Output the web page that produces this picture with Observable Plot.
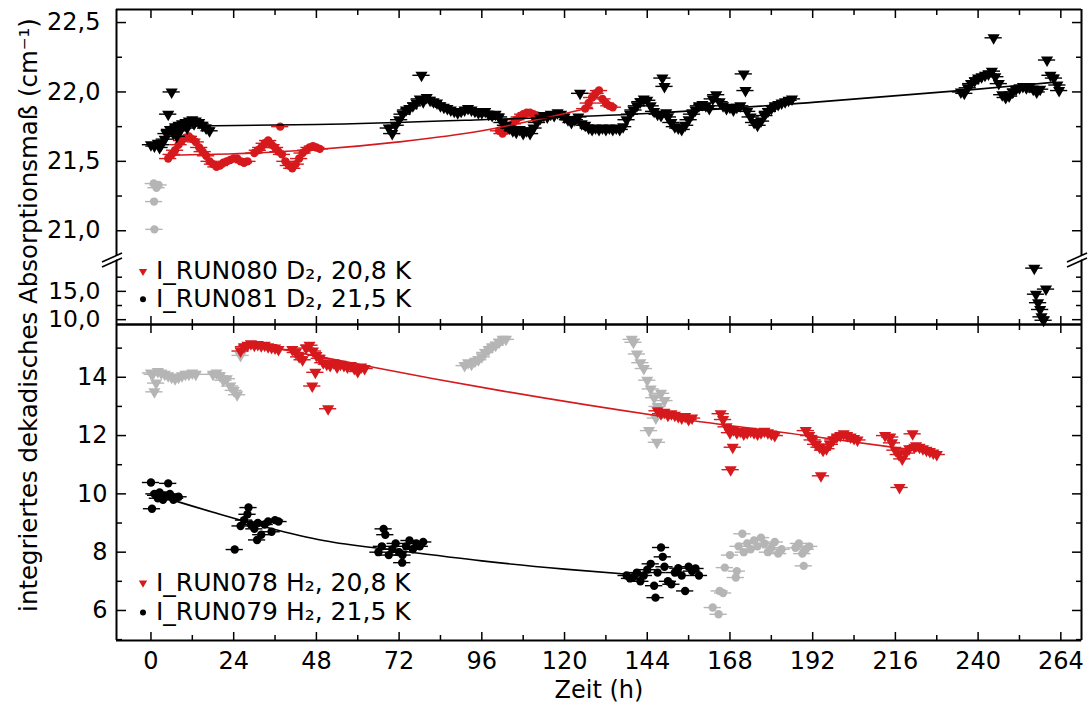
<!DOCTYPE html>
<html><head><meta charset="utf-8">
<script src="https://cdn.jsdelivr.net/npm/d3@7"></script>
<script src="https://cdn.jsdelivr.net/npm/@observablehq/plot@0.6"></script>
<style>
body{margin:0;background:#fff;}
#wrap{position:relative;width:1091px;height:707px;overflow:hidden;background:#fff;}
#wrap svg{position:absolute;left:0;overflow:visible;}
</style></head><body><div id="wrap"></div>
<script>
// ---------- axis / tick data ----------
const xDomain = [-10, 270];
const xMajor = [0, 24, 48, 72, 96, 120, 144, 168, 192, 216, 240, 264];
const xMinor = [12, 36, 60, 84, 108, 132, 156, 180, 204, 228, 252];
const yTopDomain = [20.80, 22.594];
const yTopMajor = [21.0, 21.5, 22.0, 22.5];
const yTopMinor = [21.25, 21.75, 22.25];
const yMidDomain = [9.15, 20.8];
const yMidMajor = [10, 15];
const yMidMinor = [12.5, 17.5];
const yBotDomain = [4.97, 15.81];
const yBotMajor = [6, 8, 10, 12, 14];
const yBotMinor = [5, 7, 9, 11, 13, 15];
const xErr = 2.5;
const xTitle = "Zeit (h)";
const yTitle = "integriertes dekadisches Absorptionsmaß (cm⁻¹)";
const legendTop = ["I_RUN080 D₂, 20,8 K", "I_RUN081 D₂, 21,5 K"];
const legendBot = ["I_RUN078 H₂, 20,8 K", "I_RUN079 H₂, 21,5 K"];

// ---------- upper panel (D2) ----------
const topGray = [[0.8,21.34],[1.6,21.31],[2.2,21.33],[0.9,21.21],[1.0,21.01]];
const topBlack = [
 [0,21.62],[1,21.61],[2,21.63],[2.5,21.60],[3,21.62],[4,21.66],[4.5,21.70],[5,21.84],[6,22.00],
 [5.5,21.73],[6.5,21.70],[7,21.75],[7.5,21.68],[8,21.76],[8.5,21.72],[9,21.77],[10,21.78],[10.5,21.74],
 [11,21.79],[12,21.80],[12.5,21.77],[13,21.79],[14,21.78],[15,21.76],[16,21.74],[17,21.72],
 [69,21.74],[70,21.70],[71,21.76],[72,21.80],[73,21.84],[74,21.87],[75,21.88],[76,21.90],[77,21.92],
 [78,21.95],[78.5,22.12],[79,21.93],[80,21.96],[81,21.94],[82,21.93],[83,21.92],[84,21.90],[85,21.89],
 [86,21.88],[87,21.87],[88,21.86],[89,21.85],[90,21.86],[91,21.87],[92,21.88],[93,21.87],[94,21.86],
 [95,21.85],[96,21.85],[97,21.86],[98,21.84],[99,21.83],[100,21.84],[101,21.82],[102,21.78],[103,21.76],
 [104,21.74],[105,21.72],[106,21.71],[107,21.73],[108,21.70],[109,21.72],[110,21.70],[111,21.74],
 [112,21.78],[113,21.81],[114,21.83],[115,21.82],[116,21.84],[117,21.83],[118,21.85],[119,21.84],
 [120,21.82],[121,21.80],[122,21.78],[123,21.80],[124,21.82],[124.5,21.99],[125,21.77],[126,21.76],
 [127,21.74],[128,21.73],[129,21.74],[130,21.73],[131,21.74],[132,21.73],[133,21.74],[134,21.73],
 [135,21.74],[136,21.73],[137,21.75],
 [138,21.80],[139,21.84],[140,21.87],[141,21.90],[142,21.93],[143,21.95],[144,21.94],[145,21.90],
 [146,21.86],[147,21.84],[148,21.83],[148.4,22.10],[149,22.04],[149.5,21.85],[150,21.82],[151,21.78],
 [152,21.75],[153,21.74],[154,21.73],[155,21.76],[156,21.80],[157,21.84],[158,21.87],[159,21.90],
 [160,21.91],[161,21.90],[162,21.88],[163,21.95],[164,21.98],[165,21.93],[166,21.90],[167,21.88],
 [168,21.89],[169,21.87],[170,21.89],[171,21.90],[172,22.13],[172.5,22.01],[173,21.86],[174,21.82],
 [175,21.78],[176,21.76],[177,21.79],[178,21.83],[179,21.86],[180,21.88],[181,21.90],[182,21.91],
 [183,21.92],[184,21.93],[185,21.94],[186,21.95],
 [235,22.00],[236,21.99],[237,22.03],[238,22.06],[239,22.08],[240,22.10],[241,22.11],[242,22.12],
 [243,22.13],[244,22.15],[244.5,22.39],[245,22.11],[246,22.06],[247,21.98],[248,21.96],[249,21.97],
 [250,22.00],[251,22.02],[252,22.03],[253,22.04],[254,22.03],[255,22.04],[256,22.02],[257,22.00],
 [258,22.02],[260,22.23],[261,22.12],[262,22.10],[263,22.05],[263.5,22.01]
];
const midBlack = [[256.3,19.1],[259.7,15.4],[256.8,14.5],[257.4,13.0],[258,11.8],[258.4,10.5],[259,9.9]];
const topRed = [
 [5,21.52],[6,21.55],[7,21.58],[8,21.62],[9,21.65],[10,21.67],[11,21.68],[12,21.66],[13,21.64],
 [14,21.60],[14.5,21.77],[15,21.57],[16,21.54],[17,21.50],[18,21.48],[19,21.46],[20,21.47],[21,21.49],
 [22,21.50],[23,21.51],[24,21.52],[25,21.52],[26,21.50],[27,21.49],[28,21.50],
 [30,21.56],[31,21.58],[32,21.60],[33,21.63],[34,21.65],[35,21.62],[36,21.60],[37,21.57],[37.5,21.75],
 [38,21.55],[39,21.50],[40,21.47],[41,21.45],[42,21.48],[43,21.52],[44,21.56],[45,21.58],[46,21.60],
 [47,21.61],[48,21.60],[49,21.59],
 [101,21.72],[102,21.70],[103,21.72],[104,21.75],[105,21.77],[106,21.80],[107,21.82],[108,21.84],
 [109,21.85],[110,21.85],[111,21.84],[112,21.83],[113,21.82],
 [126,21.88],[127,21.92],[128,21.96],[129,21.99],[130,22.01],[131,21.95],[132,21.92],[133,21.90],[134,21.89]
];
const topBlackFit = [[13,21.755],[48,21.765],[96,21.80],[144,21.845],[192,21.925],[240,22.02],[262,22.07]];
const topRedFit = [[6,21.545],[24,21.555],[48,21.585],[72,21.64],[96,21.72],[110,21.79],[128,21.89]];

// ---------- lower panel (H2) ----------
const botGrayTri = [
 [0,14.15],[0.5,14.1],[1,13.5],[1.5,13.8],[2,14.2],[3,14.15],[4,14.1],[5,14.05],[6,14.0],[7,13.95],
 [8,14.0],[9,14.05],[10,14.1],[11,14.1],[12,14.15],[13,14.1],
 [18,14.1],[19,14.15],[20,14.05],[21,13.9],[22,13.95],[23,13.7],[24,13.55],[25,13.4],[26,14.75],[27,15.0],
 [91,14.4],[92,14.5],[93,14.45],[94,14.55],[95,14.6],[96,14.7],[97,14.85],[98,14.95],[99,15.05],
 [100,15.1],[101,15.2],[102,15.3],[103,15.3],
 [139.5,15.3],[140,15.2],[141,14.8],[142,14.5],[143,14.3],[144,13.9],[145,13.6],[146,13.3],[147,13.0],
 [146.5,12.6],[144.5,12.17],[146.8,11.77],[148,13.45],[149,13.2]
];
const botRed = [
 [26,14.9],[27,15.05],[28,15.1],[29,15.15],[30,15.1],[31,15.12],[32,15.08],[33,15.1],[34,15.05],
 [35,15.02],[36,15.0],[37,14.95],
 [41,14.95],[42,14.85],[43,14.7],[44,14.6],[45,15.0],[46,15.1],[46.8,13.7],[47.7,14.17],[47,14.9],
 [48,14.75],[49,14.65],[50,14.5],[51,14.45],[51.4,12.92],[52,14.4],[53,14.5],[54,14.35],[55,14.45],
 [56,14.4],[57,14.35],[58,14.4],[59,14.3],[60,14.2],[61,14.35],[62,14.3],
 [147,12.85],[148,12.75],[149,12.8],[150,12.7],[151,12.75],[152,12.7],[153,12.65],[154,12.6],
 [155,12.65],[156,12.55],[157,12.6],
 [165.3,12.75],[166,12.55],[167,12.3],[168,12.1],[168.8,11.6],[168.2,10.83],[169,12.2],[170,12.1],
 [171,12.15],[172,12.05],[173,12.1],[174,12.15],[175,12.1],[176,12.05],[177,12.1],[178,12.15],
 [179,12.1],[180,12.05],[181,12.0],
 [190,12.17],[191,12.0],[192,11.85],[193,11.7],[194,11.6],[194.4,10.62],[195,11.5],[196,11.55],
 [197,11.7],[198,11.85],[199,11.95],[200,12.0],[201,12.06],[202,12.0],[203,11.95],[204,11.9],[205,11.85],
 [213,12.0],[214.5,11.95],[215,11.75],[216,11.5],[217,11.35],[217.2,10.22],[218,11.2],[219,11.4],
 [220,11.55],[221,12.06],[221.5,11.6],[222,11.65],[223,11.6],[224,11.55],[225,11.5],[226,11.45],
 [227,11.4],[228,11.35]
];
const botBlack = [
 [0,10.39],[0.3,9.49],[1,10.0],[1.5,9.95],[2,9.85],[2.5,10.05],[3,9.9],[3.5,9.8],[4,9.95],[5,10.36],
 [5.5,10.0],[6,9.9],[6.5,9.8],[7,9.85],[8,9.9],
 [24.3,8.09],[26,8.9],[27,9.1],[28,9.3],[28.3,9.53],[29,8.95],[30,8.8],[30.8,8.42],[31,9.0],[32,8.6],
 [33,8.95],[34,9.05],[35,8.7],[36,9.1],[37,9.05],
 [66,8.0],[67,8.2],[67.5,8.8],[68,8.6],[69,7.9],[70,8.1],[71,8.3],[72,8.0],[72.9,7.64],[73,7.9],
 [74,8.2],[75,8.4],[76,8.1],[77,8.3],[78,8.2],[79,8.35],
 [138,7.2],[139,7.1],[140,7.15],[141,7.3],[142,7.0],[143,7.2],[144,7.4],[145,7.6],[146,6.85],
 [146.4,6.44],[147,7.3],[148,8.16],[148.5,7.84],[149,7.5],[150,7.0],[151,6.9],[152,7.3],[153,7.45],
 [154,7.2],[155,6.67],[156,7.5],[157,7.35],[158,7.44],[159,7.2]
];
const botGrayDot = [
 [163,6.1],[164.7,5.87],[165,6.67],[166,6.6],[166.5,7.47],[168,7.9],[169.7,7.13],[170,7.35],[170.5,8.2],
 [171.6,8.63],[172,8.0],[173,8.3],[174,8.1],[175,8.4],[176,8.2],[177,8.5],[178,8.3],[179,8.0],
 [180,8.15],[181,8.35],[182,7.95],[183,8.1],[187,8.15],[188,8.3],[189,7.95],[189.4,7.53],[190,8.1],[191,8.2]
];
const botBlackFit = [[7,9.76],[20,9.3],[34,8.84],[50,8.4],[72,8.05],[96,7.7],[120,7.42],[143,7.2]];
const botRedFit = [[35,15.03],[60,14.45],[82,13.95],[101,13.55],[147,12.68],[190,12.0],[229,11.38]];

// ---------- styles ----------
const RED = "#d6191d", GRAY = "#b5b5b5", BLACK = "#000";
const FONT = "'DejaVu Sans', 'Noto Sans', sans-serif";

function series(data, color, shape) {
  const m = [Plot.ruleY(data, {y: d => d[1], x1: d => d[0] - xErr, x2: d => d[0] + xErr, stroke: color, strokeWidth: 1.4})];
  if (shape === "tri") m.push(Plot.dot(data, {x: d => d[0], y: d => d[1], symbol: "triangle", rotate: 180, r: 4.5, fill: color, stroke: null}));
  else m.push(Plot.dot(data, {x: d => d[0], y: d => d[1], r: 4.2, fill: color, stroke: null}));
  return m;
}
function fit(data, color) {
  return Plot.line(data, {x: d => d[0], y: d => d[1], stroke: color, strokeWidth: 1.6, curve: "monotone-x"});
}

function panel(o) {
  const marks = [];
  marks.push(...o.data);
  marks.push(Plot.ruleX(xDomain, {stroke: BLACK, strokeWidth: 2}));
  if (o.top) {
    marks.push(Plot.ruleY([o.yDomain[1]], {stroke: BLACK, strokeWidth: 2}));
    marks.push(Plot.axisX(xMajor, {anchor: "top", tickSize: -8, text: null, label: null, strokeWidth: 1.5}));
    marks.push(Plot.axisX(xMinor, {anchor: "top", tickSize: -5, text: null, label: null, strokeWidth: 1.5}));
  }
  if (o.bottom) {
    marks.push(Plot.ruleY([o.yDomain[0]], {stroke: BLACK, strokeWidth: 2}));
    marks.push(Plot.axisX(xMajor, {anchor: "bottom", tickSize: -8, text: null, label: null, strokeWidth: 1.5}));
    marks.push(Plot.axisX(xMinor, {anchor: "bottom", tickSize: -5, text: null, label: null, strokeWidth: 1.5}));
  }
  for (const a of ["left", "right"]) {
    marks.push(Plot.axisY(o.yMajor, {anchor: a, tickSize: -10, text: null, label: null, strokeWidth: 1.5}));
    marks.push(Plot.axisY(o.yMinor, {anchor: a, tickSize: -6, text: null, label: null, strokeWidth: 1.5}));
  }
  marks.push(Plot.axisY(o.yMajor, {anchor: "left", tickSize: 0, tickPadding: o.pad, tickFormat: o.fmt, label: null, fontSize: o.fs}));
  if (o.xLabels) {
    marks.push(Plot.axisX(xMajor, {anchor: "bottom", tickSize: 0, tickPadding: 11, fontSize: 24,
      label: xTitle, labelAnchor: "center", labelArrow: "none", labelOffset: 57}));
  }
  const svg = Plot.plot({
    width: 1091, height: o.height,
    marginLeft: 116, marginRight: 10, marginTop: o.mt, marginBottom: o.mb,
    style: {fontFamily: FONT, color: "#000", background: "transparent"},
    x: {domain: xDomain, axis: null},
    y: {domain: o.yDomain, axis: null},
    marks
  });
  svg.style.top = o.topPx + "px";
  return svg;
}

const comma1 = d => d.toFixed(1).replace(".", ",");
const wrap = document.getElementById("wrap");

wrap.appendChild(panel({
  topPx: 0, height: 258, mt: 9, mb: 0, yDomain: yTopDomain, yMajor: yTopMajor, yMinor: yTopMinor,
  fmt: comma1, pad: 16, fs: 24, top: true, bottom: false,
  data: [...series(topGray, GRAY, "dot"), ...series(topRed, RED, "dot"), ...series(topBlack, BLACK, "tri"),
         fit(topRedFit, RED), fit(topBlackFit, BLACK)]
}));
wrap.appendChild(panel({
  topPx: 258, height: 66, mt: 0, mb: 0, yDomain: yMidDomain, yMajor: yMidMajor, yMinor: yMidMinor,
  fmt: comma1, pad: 16, fs: 23.5, top: false, bottom: true,
  data: [...series(midBlack, BLACK, "tri")]
}));
wrap.appendChild(panel({
  topPx: 324, height: 383, mt: 0, mb: 67, yDomain: yBotDomain, yMajor: yBotMajor, yMinor: yBotMinor,
  fmt: d => String(d), pad: 9, fs: 24, top: true, bottom: true, xLabels: true,
  data: [...series(botGrayTri, GRAY, "tri"), ...series(botGrayDot, GRAY, "dot"),
         ...series(botRed, RED, "tri"), ...series(botBlack, BLACK, "dot"),
         fit(botRedFit, RED), fit(botBlackFit, BLACK)]
}));

// ---------- overlay: y title, legends, axis breaks ----------
const ov = d3.select(wrap).append("svg").attr("width", 1091).attr("height", 707).style("top", "0px")
  .style("font-family", FONT).style("pointer-events", "none");

// y title, sized to span the reference's extent
const yt = ov.append("text").attr("transform", "translate(37,315) rotate(-90)")
  .attr("text-anchor", "middle").attr("font-size", 22).attr("fill", "#000").text(yTitle);
{
  const len = yt.node().getComputedTextLength();
  yt.attr("font-size", Math.min(26, 22 * 594 / len));
}

// legend: one text element per line
function legend(items, baselines) {
  items.forEach((label, i) => {
    const y = baselines[i];
    if (i === 0) {
      ov.append("path").attr("d", d3.symbol(d3.symbolTriangle, 30)()).attr("fill", RED)
        .attr("transform", `translate(143,${y - 8}) rotate(180)`);
    } else {
      ov.append("circle").attr("cx", 143).attr("cy", y - 7.4).attr("r", 3).attr("fill", BLACK);
    }
    ov.append("text").attr("x", 156).attr("y", y).attr("font-size", 25).attr("fill", "#000").text(label);
  });
}
legend(legendTop, [279.3, 306.7]);
legend(legendBot, [591, 620]);

function brk(cx, cy) {
  ov.append("path").attr("d", `M${cx-14},${cy+5}L${cx+6},${cy-4}L${cx+6},${cy-8}L${cx-14},${cy+1}Z`).attr("fill", "#fff");
  ov.append("line").attr("x1", cx-14).attr("y1", cy+6).attr("x2", cx+6).attr("y2", cy-3).attr("stroke", "#000").attr("stroke-width", 1.6);
  ov.append("line").attr("x1", cx-14).attr("y1", cy+1).attr("x2", cx+6).attr("y2", cy-8).attr("stroke", "#000").attr("stroke-width", 1.6);
}
brk(116, 261);
brk(1081, 261);
</script></body></html>
